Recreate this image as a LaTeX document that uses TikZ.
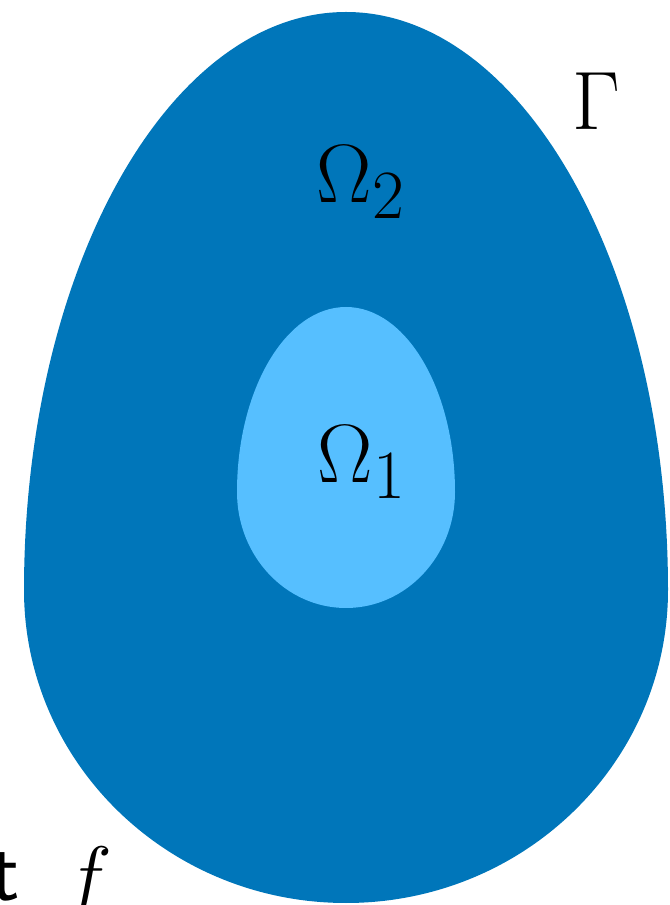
\documentclass[tikz,border=0pt]{standalone}
\definecolor{outerblue}{RGB}{0,118,186}
\definecolor{innerblue}{RGB}{86,191,255}

\begin{document}
\begin{tikzpicture}[x=0.3pt, y=0.3pt, every node/.style={inner sep=0pt, anchor=base west, font=\fontsize{29.5}{36}\selectfont}]
\useasboundingbox (0,0) rectangle (670,905);
\clip (0,0) rectangle (670,905);
% outer egg
\fill[outerblue] (668,315) arc[start angle=0, end angle=180, x radius=322, y radius=578]
  arc[start angle=180, end angle=360, x radius=322, y radius=313] -- cycle;
% inner egg
\fill[innerblue] (455,413) arc[start angle=0, end angle=180, x radius=109, y radius=185]
  arc[start angle=180, end angle=360, x radius=109, y radius=116] -- cycle;
\node (omega2) at (316,702) {$\Omega_2$};
\node (omega1) at (317,422) {$\Omega_1$};
\node (gamma) at (572,775) {$\Gamma$};
\node[font=\fontsize{26}{30}\selectfont] (tt) at (-10,5) {\textsf{t}};
\node (f) at (63,0) {$f$};
\end{tikzpicture}
\end{document}
